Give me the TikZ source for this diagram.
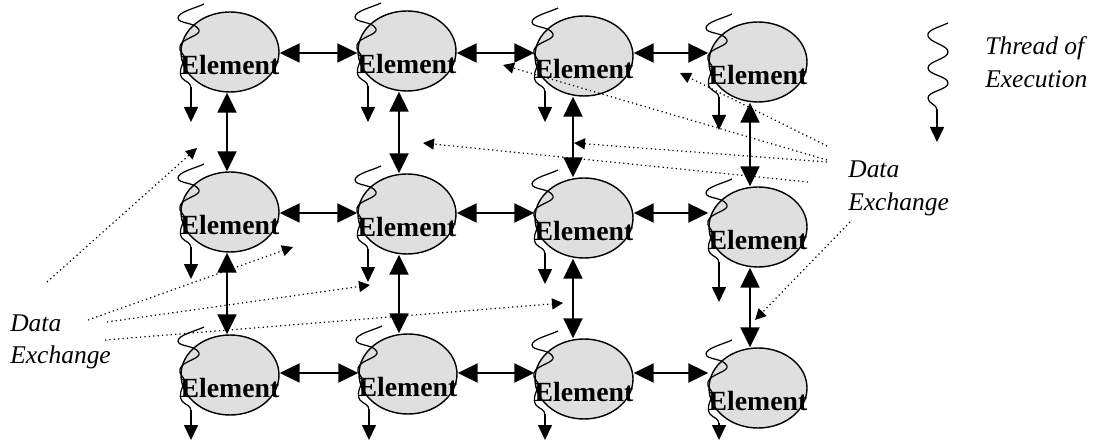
\documentclass[tikz,border=0pt]{standalone}
\usepackage{fontspec}
\setmainfont{Liberation Serif}
\usetikzlibrary{shapes.geometric,arrows.meta}
\begin{document}
\begin{tikzpicture}[x=0.02cm,y=-0.02cm,
  elem/.style={ellipse,draw,line width=0.8pt,fill=gray!25,minimum width=1.96cm,minimum height=1.6cm,inner sep=0pt},
  elabel/.style={anchor=base,inner sep=0pt,font=\fontsize{15.8}{16}\selectfont\bfseries},
  lab/.style={anchor=base west,inner sep=0pt,font=\fontsize{14.5}{16}\selectfont\itshape},
  link/.style={line width=1.2pt,{Triangle[length=0.4cm,width=0.38cm]}-{Triangle[length=0.4cm,width=0.38cm]}},
  thr/.style={line width=0.7pt},
  thrtip/.style={line width=0.9pt,-{Triangle[length=0.3cm,width=0.28cm]}},
  xchg/.style={line width=0.7pt,dash pattern=on 0.7pt off 1.8pt,-{Triangle[length=0.22cm,width=0.22cm]}},
  thread/.pic={
    \draw[thr] (-26,-48) .. controls (-34,-44) and (-52,-40) .. (-52,-34)
               .. controls (-52,-28) and (-34,-30) .. (-31,-22)
               .. controls (-29,-16) and (-48,-14) .. (-50,-6)
               .. controls (-52,0) and (-44,2) .. (-46,8)
               .. controls (-48,14) and (-52,20) .. (-48,26)
               .. controls (-45,30) and (-39,30) .. (-39,36);
    \draw[thrtip] (-39,35) -- (-39,#1);
  }
]
\fill[white] (0,0) rectangle (1104,445);
\useasboundingbox (0,0) rectangle (1104,445);

% grid of processing elements
\node[elem] (e11) at (230,52) {};
\node[elem] (e12) at (407,51) {};
\node[elem] (e13) at (584,56) {};
\node[elem] (e14) at (758,62) {};
\node[elem] (e21) at (230,212) {};
\node[elem] (e22) at (407,214) {};
\node[elem] (e23) at (584,218) {};
\node[elem] (e24) at (758,227) {};
\node[elem] (e31) at (230,375) {};
\node[elem] (e32) at (408,374) {};
\node[elem] (e33) at (584,379) {};
\node[elem] (e34) at (758,388) {};

% threads of execution running through each element (last value: arrow tip below centre)
\foreach \e/\t in {e11/70,e12/71,e13/66,e14/68,e21/67,e22/68,e23/66,e24/75,e31/65,e32/66,e33/61,e34/52}
  \pic at (\e.center) {thread=\t};

% element captions
\foreach \e in {11,12,13,14,21,22,23,24,31,32,33,34}
  \node[elabel] (t\e) at ([yshift=-0.46cm]e\e.center) {Element};

% row and column guides for the links
\coordinate (row1) at (0,53);
\coordinate (row2) at (0,213);
\coordinate (row3) at (0,373);
\coordinate (col1) at (227,0);
\coordinate (col2) at (399,0);
\coordinate (col3) at (573,0);
\coordinate (col4) at (750,0);

% horizontal links
\draw[link] (e11.east |- row1) -- (e12.west |- row1);
\draw[link] (e12.east |- row1) -- (e13.west |- row1);
\draw[link] (e13.east |- row1) -- (e14.west |- row1);
\draw[link] (e21.east |- row2) -- (e22.west |- row2);
\draw[link] (e22.east |- row2) -- (e23.west |- row2);
\draw[link] (e23.east |- row2) -- (e24.west |- row2);
\draw[link] (e31.east |- row3) -- (e32.west |- row3);
\draw[link] (e32.east |- row3) -- (e33.west |- row3);
\draw[link] (e33.east |- row3) -- (e34.west |- row3);

% vertical links
\draw[link] (e11.south -| col1) -- (e21.north -| col1);
\draw[link] (e12.south -| col2) -- (e22.north -| col2);
\draw[link] (e13.south -| col3) -- (e23.north -| col3);
\draw[link] (e14.south -| col4) -- (e24.north -| col4);
\draw[link] (e21.south -| col1) -- (e31.north -| col1);
\draw[link] (e22.south -| col2) -- (e32.north -| col2);
\draw[link] (e23.south -| col3) -- (e33.north -| col3);
\draw[link] (e24.south -| col4) -- (e34.north -| col4);

% legend
\draw[thr] (948,23) .. controls (940,27) and (926,30) .. (928,36)
           .. controls (930,43) and (948,45) .. (948,52)
           .. controls (948,59) and (928,61) .. (928,68)
           .. controls (928,75) and (948,76) .. (948,83)
           .. controls (948,90) and (928,91) .. (928,98)
           .. controls (928,104) and (937,104) .. (937,110);
\coordinate (lgtop) at (937,109);
\coordinate (lgtip) at (937,142);
\draw[thrtip] (lgtop) -- (lgtip);
\node[lab] (th1) at (985,55) {Thread of};
\node[lab] (th2) at (985,88) {Execution};

% data exchange labels
\node[lab] (dr1) at (848,178) {Data};
\node[lab] (dr2) at (848,211) {Exchange};
\node[lab] (dl1) at (10,332) {Data};
\node[lab] (dl2) at (10,363) {Exchange};

% data exchange pointers, right group
\coordinate (r1s) at (827,160); \coordinate (r1e) at (503,65);
\coordinate (r2s) at (827,146); \coordinate (r2e) at (680,73);
\coordinate (r3s) at (827,162); \coordinate (r3e) at (574,143);
\coordinate (r4s) at (808,182); \coordinate (r4e) at (423,143);
\coordinate (r5s) at (850,222); \coordinate (r5e) at (755,320);
\draw[xchg] (r1s) -- (r1e);
\draw[xchg] (r2s) -- (r2e);
\draw[xchg] (r3s) -- (r3e);
\draw[xchg] (r4s) -- (r4e);
\draw[xchg] (r5s) -- (r5e);

% data exchange pointers, left group
\coordinate (l1s) at (47,282);  \coordinate (l1e) at (197,148);
\coordinate (l2s) at (88,320);  \coordinate (l2e) at (293,247);
\coordinate (l3s) at (107,322); \coordinate (l3e) at (370,285);
\coordinate (l4s) at (105,340); \coordinate (l4e) at (563,303);
\draw[xchg] (l1s) -- (l1e);
\draw[xchg] (l2s) -- (l2e);
\draw[xchg] (l3s) -- (l3e);
\draw[xchg] (l4s) -- (l4e);
\end{tikzpicture}
\end{document}
